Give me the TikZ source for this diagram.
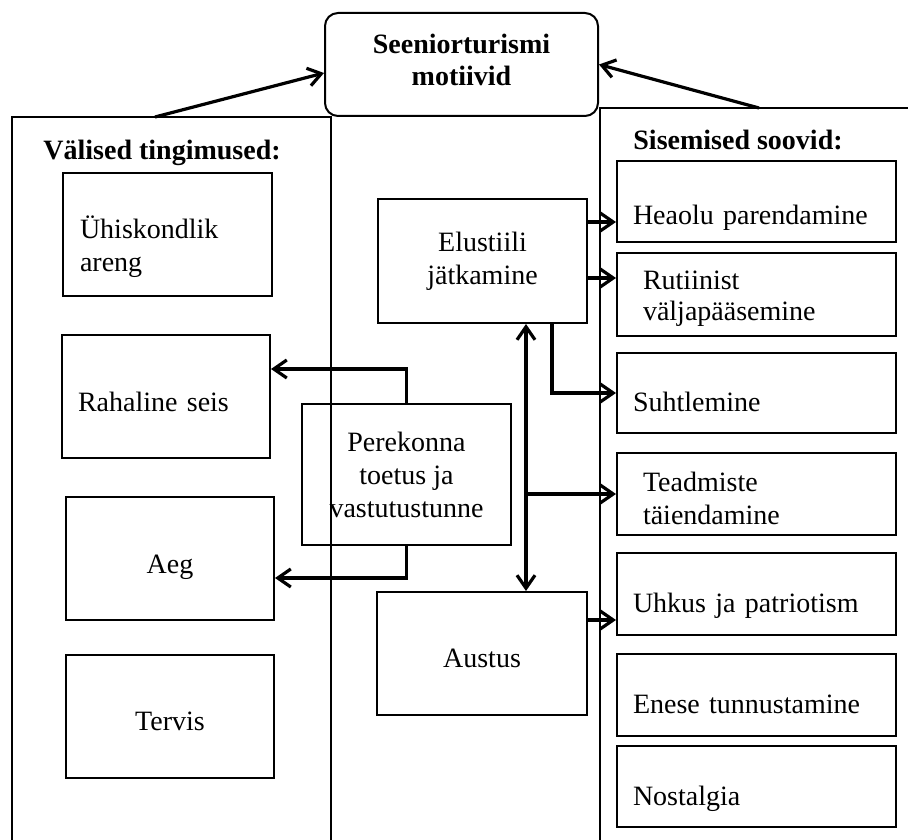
\documentclass[tikz,border=0pt]{standalone}
\usepackage{fontspec}
\setmainfont{Liberation Serif}
\usetikzlibrary{arrows.meta}

\begin{document}
\begin{tikzpicture}[x=0.5pt,y=-0.5pt,
  >={Straight Barb[length=6.5pt,width=9pt]},
  box/.style={draw,line width=1pt,inner ysep=0pt,font=\fontsize{14}{16.5}\selectfont},
  lbox/.style={box,minimum width=104pt,minimum height=61.5pt},
  rbox/.style={box,text width=123.5pt,inner xsep=8pt,align=left,minimum height=40.5pt},
  tbase/.style={text height=#1,text depth=3pt},
  conn/.style={->,line width=1.6pt},
  big/.style={line width=0.8pt},
  head/.style={inner sep=0pt,anchor=base west,font=\fontsize{14}{16.5}\selectfont\bfseries}]

\useasboundingbox (0,0) rectangle (908,839);

\draw[big] (12,845) -- (12,117) -- (331,117) -- (331,845);
\draw[big] (915,108) -- (600,108) -- (600,845);
\coordinate (vtop) at (155,117);
\coordinate (stop) at (759,108);

\node[box,rounded corners=6.5pt,minimum width=136.5pt,minimum height=51.5pt,align=center,
      font=\fontsize{14}{16}\selectfont\bfseries,text height=21.5pt,text depth=0pt] (motiv) at (461.5,64.5) {Seeniorturismi\\motiivid};

\node[head] (valis) at (43,160) {Välised tingimused:};
\node[head] (sisem) at (633,150) {Sisemised soovid:};

\node[lbox,text width=87.5pt,inner xsep=8.5pt,align=left,text height=24pt] (uhis) at (167.5,234.5) {Ühiskondlik\\areng};
\node[lbox,text width=88pt,inner xsep=8pt,align=left,tbase=17.5pt] (raha) at (166,396.5) {Rahaline seis};
\node[lbox,tbase=17.5pt] (aeg) at (170,558.5) {Aeg};
\node[lbox,tbase=17pt] (terv) at (170,716) {Tervis};

\node[lbox,minimum width=104.5pt,minimum height=70.5pt,align=center] (pere) at (406.5,474.5) {Perekonna\\toetus ja\\vastutustunne};
\node[lbox,minimum width=104.5pt,minimum height=62pt,align=center] (elu) at (482.5,261) {Elustiili\\jätkamine};
\node[lbox,minimum width=105pt,tbase=16.5pt] (aust) at (482,653.5) {Austus};

\node[rbox,tbase=26.5pt] (heaolu) at (756.5,201.5) {Heaolu parendamine};
\node[rbox,text width=113.5pt,inner xsep=13pt,minimum height=41.5pt,text height=13pt,
      font=\fontsize{14}{15.5}\selectfont] (rutiin) at (756.5,294.5) {Rutiinist\\väljapääsemine};
\node[rbox,minimum height=40pt,tbase=21pt] (suht) at (756.5,393) {Suhtlemine};
\node[rbox,text width=113.5pt,inner xsep=13pt,minimum height=41pt,text height=14.5pt] (teadm) at (756.5,494) {Teadmiste\\täiendamine};
\node[rbox,minimum height=41pt,tbase=21pt] (uhkus) at (756.5,594) {Uhkus ja patriotism};
\node[rbox,minimum height=41pt,tbase=21pt] (enese) at (756.5,695) {Enese tunnustamine};
\node[rbox,tbase=21.5pt] (nost) at (756.5,786.5) {Nostalgia};

\draw[conn] (vtop) -- (motiv.west |- 0,73);
\draw[conn] (stop) -- (motiv.east);
\draw[conn] (elu.east |- 0,222) -- (heaolu.west |- 0,222);
\draw[conn] (elu.east |- 0,278) -- (rutiin.west |- 0,278);
\draw[conn] (elu.south -| 552,0) |- (suht.west);
\draw[conn,<->] (elu.south -| 526,0) -- (aust.north -| 526,0);
\draw[conn] (teadm.west -| 526,0) -- (teadm.west);
\draw[conn] (aust.east |- 0,620) -- (uhkus.west |- 0,620);
\draw[conn] (pere.north) |- (raha.east |- 0,369);
\draw[conn] (pere.south) |- (aeg.east |- 0,578);

\end{tikzpicture}
\end{document}
